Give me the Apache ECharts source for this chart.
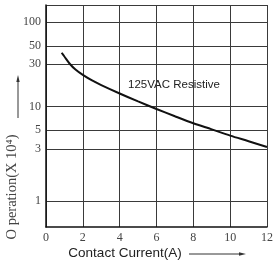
<!DOCTYPE html>
<html>
<head>
<meta charset="utf-8">
<script src="https://cdn.jsdelivr.net/npm/echarts@6/dist/echarts.min.js"></script>
<style>
  html, body { margin: 0; padding: 0; background: #fff; }
  #chart { width: 280px; height: 267px; }
</style>
</head>
<body>
<div id="chart"></div>
<script>
// data
const current = [0.85, 1.0, 1.3, 1.6, 2, 2.5, 3, 4, 5, 6, 7, 8, 9, 10, 11, 12];
const operations = [41.3, 37.1, 30, 26, 22.6, 19.6, 17.4, 14, 11.4, 9.3, 7.5, 6.1, 5.1, 4.3, 3.7, 3.17];
const xTicks = [0, 2, 4, 6, 8, 10, 12];
const yTicks = [1, 3, 5, 10, 30, 50, 100];
// non-uniform printed y scale: where each tick sits on the axis (0..222)
const yTickStops = [26, 78, 97, 120.5, 163, 181, 205];
const yMax = 222;

// map a value onto the printed y scale (log between neighbouring ticks)
function yScale(v) {
  for (let i = 0; i < yTicks.length - 1; i++) {
    const a = yTicks[i], b = yTicks[i + 1];
    if (v <= b || i === yTicks.length - 2) {
      const t = Math.log(v / a) / Math.log(b / a);
      return yTickStops[i] + t * (yTickStops[i + 1] - yTickStops[i]);
    }
  }
}

const chart = echarts.init(document.getElementById("chart"));
const gridColor = "#3a3a3a";
const serif = "Liberation Serif";

const option = {
  animation: false,
  grid: { left: 46, right: 13, top: 5, bottom: 40, containLabel: false },
  xAxis: {
    type: "value",
    min: 0,
    max: 12,
    interval: 2,
    axisLine: { show: true, lineStyle: { color: "#111", width: 1.5 } },
    axisTick: { show: false },
    axisLabel: { color: "#444", fontFamily: serif, fontSize: 12, margin: 5 },
    splitLine: { show: true, lineStyle: { color: gridColor, width: 1 } }
  },
  yAxis: {
    type: "value",
    min: 0,
    max: yMax,
    axisLine: { show: true, lineStyle: { color: "#111", width: 1.5 } },
    axisTick: { show: false, customValues: yTickStops.concat([yMax]) },
    axisLabel: {
      customValues: yTickStops,
      color: "#444",
      fontFamily: serif,
      fontSize: 12,
      margin: 5,
      formatter: function (val) {
        const i = yTickStops.indexOf(val);
        return i >= 0 ? String(yTicks[i]) : "";
      }
    },
    splitLine: { show: true, lineStyle: { color: gridColor, width: 1 } }
  },
  graphic: [
    // y title and arrow
    {
      type: "text",
      x: 12, y: 187,
      rotation: Math.PI / 2,
      style: {
        text: "O peration(X 10⁴)",
        font: "14.5px " + serif,
        fill: "#444",
        align: "center",
        verticalAlign: "middle"
      }
    },
    { type: "line", shape: { x1: 18, y1: 118, x2: 18, y2: 80 }, style: { stroke: "#333", lineWidth: 1 } },
    { type: "polygon", shape: { points: [[18, 75], [16.3, 82], [19.7, 82]] }, style: { fill: "#333" } },
    // x title and arrow
    {
      type: "text",
      x: 125, y: 253,
      style: {
        text: "Contact Current(A)",
        font: "13.5px Liberation Sans",
        fill: "#222",
        align: "center",
        verticalAlign: "middle"
      }
    },
    { type: "line", shape: { x1: 189, y1: 254, x2: 240, y2: 254 }, style: { stroke: "#333", lineWidth: 1 } },
    { type: "polygon", shape: { points: [[246, 254], [239, 252.3], [239, 255.7]] }, style: { fill: "#333" } },
    // curve label
    {
      type: "text",
      x: 128, y: 85,
      style: {
        text: "125VAC Resistive",
        font: "11.5px Liberation Sans",
        fill: "#222",
        verticalAlign: "middle"
      }
    }
  ],
  series: [
    {
      type: "line",
      smooth: 0.3,
      symbol: "none",
      lineStyle: { color: "#111", width: 2 },
      data: current.map((c, i) => [c, yScale(operations[i])])
    }
  ]
};

chart.setOption(option);
</script>
</body>
</html>
